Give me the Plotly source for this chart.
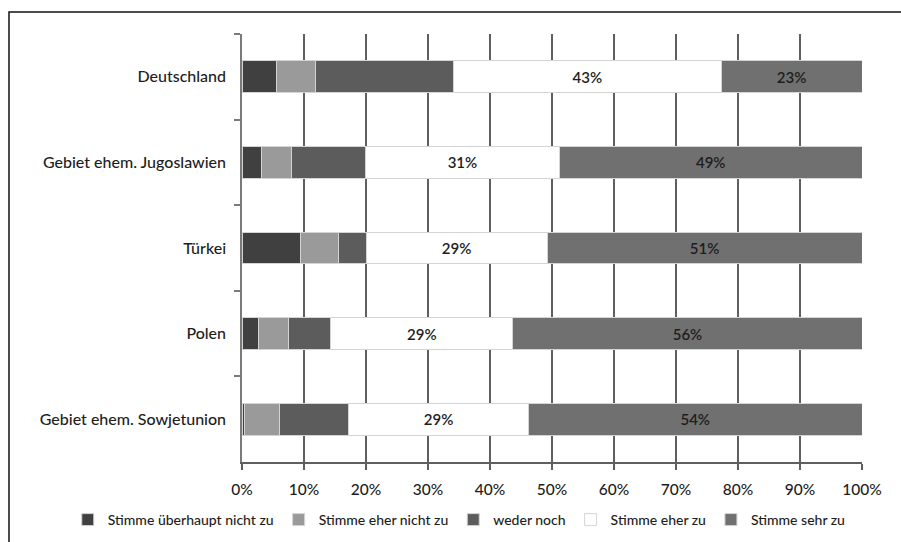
import plotly.graph_objects as go

# Herkunftsgruppen (von oben nach unten)
regions = [
    "Deutschland",
    "Gebiet ehem. Jugoslawien",
    "Türkei",
    "Polen",
    "Gebiet ehem. Sowjetunion",
]

# Antwortanteile in Prozent je Gruppe
stimme_ueberhaupt_nicht_zu = [5.5, 3.2, 9.5, 2.6, 0.4]
stimme_eher_nicht_zu = [6.3, 4.8, 6.1, 4.9, 5.7]
weder_noch = [22.3, 11.9, 4.4, 6.8, 11.1]
stimme_eher_zu = [43.2, 31.3, 29.2, 29.4, 29.0]
stimme_sehr_zu = [22.7, 48.8, 50.8, 56.3, 53.8]

x_ticks = [0, 10, 20, 30, 40, 50, 60, 70, 80, 90, 100]

series = [
    ("Stimme überhaupt nicht zu", stimme_ueberhaupt_nicht_zu, "#404040", False),
    ("Stimme eher nicht zu", stimme_eher_nicht_zu, "#9a9a9a", False),
    ("weder noch", weder_noch, "#5c5c5c", False),
    ("Stimme eher zu", stimme_eher_zu, "#ffffff", True),
    ("Stimme sehr zu", stimme_sehr_zu, "#707070", True),
]

FONT = "Lato"
TEXT = "#1e1e1e"
GRID = "#5f5f5f"

fig = go.Figure()
for name, values, color, labelled in series:
    fig.add_trace(go.Bar(
        name=name,
        y=regions,
        x=values,
        orientation="h",
        marker=dict(color=color, line=dict(color="#d4d4d4", width=1)),
        text=[f"{round(v)}%" for v in values] if labelled else None,
        textposition="inside" if labelled else "none",
        insidetextanchor="middle",
        textangle=0,
        textfont=dict(family=FONT, size=15, color=TEXT, weight=600),
        hoverinfo="skip",
    ))

fig.update_layout(
    width=901,
    height=542,
    barmode="stack",
    bargap=0.63,
    paper_bgcolor="white",
    plot_bgcolor="white",
    margin=dict(l=242, r=39, t=34, b=80, autoexpand=False),
    font=dict(family=FONT, size=14, color=TEXT),
    uniformtext=dict(mode="show", minsize=14),
    legend=dict(
        orientation="h",
        x=-0.281,
        xanchor="left",
        y=-0.1355,
        yanchor="middle",
        font=dict(family=FONT, size=14, color=TEXT, weight=500),
        itemwidth=30,
        traceorder="normal",
        bgcolor="rgba(0,0,0,0)",
    ),
    showlegend=True,
)

fig.update_xaxes(
    range=[0, 100],
    tickvals=x_ticks,
    ticktext=[f"{t}%" for t in x_ticks],
    showgrid=True,
    gridcolor=GRID,
    gridwidth=1.5,
    zeroline=False,
    showline=True,
    linecolor=GRID,
    linewidth=1.5,
    ticks="outside",
    ticklen=6,
    tickwidth=1.5,
    tickcolor=GRID,
    ticklabelstandoff=7,
    tickfont=dict(family=FONT, size=15.5, color=TEXT, weight=500),
    fixedrange=True,
)

fig.update_yaxes(
    categoryorder="array",
    categoryarray=regions,
    autorange="reversed",
    showgrid=False,
    showline=True,
    linecolor="#7a7a7a",
    linewidth=1.5,
    ticks="outside",
    tickson="boundaries",
    ticklen=6,
    tickwidth=1.5,
    tickcolor="#7a7a7a",
    ticklabelstandoff=11,
    tickfont=dict(family=FONT, size=16, color=TEXT, weight=500),
    fixedrange=True,
)

# Rahmen um die Grafik (links und oben sichtbar)
fig.add_shape(
    type="rect",
    xref="paper", yref="paper",
    x0=-0.3758, x1=1.3, y0=-0.35, y1=1.0514,
    line=dict(color="#111111", width=1.5),
    fillcolor="rgba(0,0,0,0)",
    layer="below",
)

fig.write_html("out.html")
